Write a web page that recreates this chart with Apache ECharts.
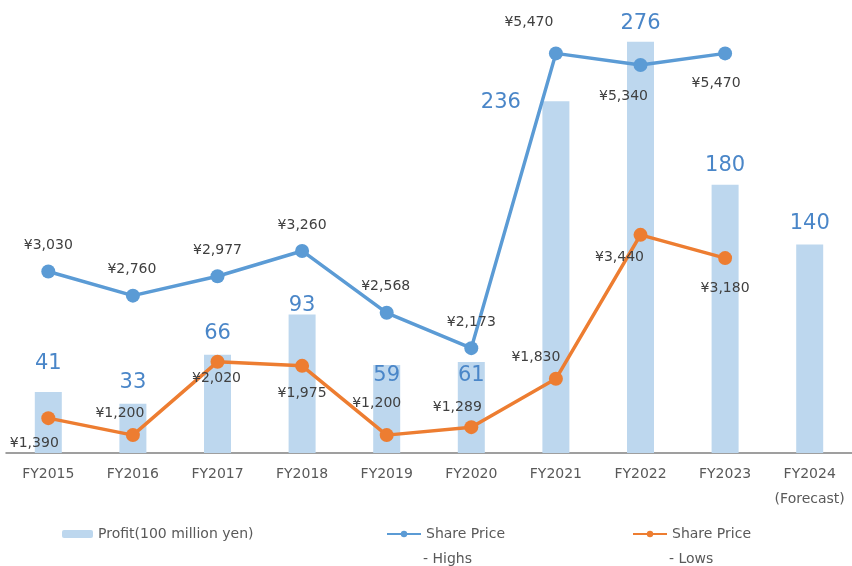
<!DOCTYPE html>
<html>
<head>
<meta charset="utf-8">
<script src="https://cdn.jsdelivr.net/npm/echarts@6/dist/echarts.min.js"></script>
<style>
  html, body { margin: 0; padding: 0; background: #fff; }
  #chart { width: 852px; height: 566px; }
</style>
</head>
<body>
<div id="chart"></div>
<script>
// data
var years = ['FY2015', 'FY2016', 'FY2017', 'FY2018', 'FY2019', 'FY2020', 'FY2021', 'FY2022', 'FY2023', 'FY2024\n(Forecast)']
var profit = [41, 33, 66, 93, 59, 61, 236, 276, 180, 140]
var priceHighs = [3030, 2760, 2977, 3260, 2568, 2173, 5470, 5340, 5470, null]
var priceLows = [1390, 1200, 2020, 1975, 1200, 1289, 1830, 3440, 3180, null]

// label nudges (Excel had them dragged by hand)
var profitLabelOffset = [[0, -28], [0, -21], [0, -21], [0, -9], [0, 10], [0, 13], [-55, 1], [0, -18], [0, -19], [0, -21]]
var highsLabelOffset = [[0, -26], [-1, -26], [0, -26], [0, -26], [-1, -26], [0, -26], [-27, -31], [-17, 31], [-9, 30]]
var lowsLabelOffset = [[-14, 25], [-13, -22], [-1, 17], [0, 28], [-10, -32], [-14, -20], [-20, -21], [-21, 22], [0, 30]]

var FONT = 'DejaVu Sans'

function yen (v) {
  return '¥' + v.toLocaleString('en-US')
}

function withOffsets (values, offsets) {
  return values.map(function (v, i) {
    if (v == null) return v
    return { value: v, label: { offset: offsets[i] } }
  })
}

var priceLabel = {
  show: true,
  position: 'inside',
  color: '#404040',
  fontFamily: FONT,
  fontSize: 14,
  formatter: function (p) { return yen(p.value) }
}

var chart = echarts.init(document.getElementById('chart'))
var option = {
  animation: false,
  grid: {
    left: 6,
    top: 6,
    width: 853,
    height: 447
  },
  xAxis: {
    type: 'category',
    data: years,
    axisTick: { show: false },
    axisLine: {
      lineStyle: { color: '#808080', width: 1.5 }
    },
    axisLabel: {
      color: '#595959',
      fontFamily: FONT,
      fontSize: 14,
      lineHeight: 25,
      margin: 9,
      interval: 0
    }
  },
  yAxis: [
    { type: 'value', min: 0, max: 300, show: false },
    { type: 'value', min: 1000, max: 6000, show: false }
  ],
  legend: [
    {
      left: 62,
      top: 527,
      padding: 0,
      itemWidth: 31,
      itemHeight: 8,
      data: ['Profit(100 million yen)'],
      textStyle: { color: '#595959', fontFamily: FONT, fontSize: 14 }
    },
    {
      left: 386,
      top: 527,
      padding: 0,
      itemWidth: 34,
      itemHeight: 8,
      data: ['Share Price - Highs'],
      formatter: function () { return 'Share Price' },
      textStyle: { color: '#595959', fontFamily: FONT, fontSize: 14 }
    },
    {
      left: 632,
      top: 527,
      padding: 0,
      itemWidth: 34,
      itemHeight: 8,
      data: ['Share Price - Lows'],
      formatter: function () { return 'Share Price' },
      textStyle: { color: '#595959', fontFamily: FONT, fontSize: 14 }
    }
  ],
  graphic: [
    {
      type: 'text',
      x: 423,
      y: 559,
      style: { text: '- Highs', fill: '#595959', fontFamily: FONT, fontSize: 14, verticalAlign: 'middle' }
    },
    {
      type: 'text',
      x: 669,
      y: 559,
      style: { text: '- Lows', fill: '#595959', fontFamily: FONT, fontSize: 14, verticalAlign: 'middle' }
    }
  ],
  series: [
    {
      name: 'Profit(100 million yen)',
      type: 'bar',
      yAxisIndex: 0,
      data: withOffsets(profit, profitLabelOffset),
      barWidth: 27,
      itemStyle: { color: '#bdd7ee' },
      z: 1,
      label: {
        show: true,
        position: 'top',
        distance: 0,
        align: 'center',
        verticalAlign: 'middle',
        color: '#4a86c8',
        fontFamily: FONT,
        fontSize: 21
      }
    },
    {
      name: 'Share Price - Highs',
      type: 'line',
      yAxisIndex: 1,
      data: withOffsets(priceHighs, highsLabelOffset),
      symbol: 'circle',
      symbolSize: 14,
      lineStyle: { color: '#5b9bd5', width: 3.5 },
      itemStyle: { color: '#5b9bd5' },
      z: 3,
      label: priceLabel
    },
    {
      name: 'Share Price - Lows',
      type: 'line',
      yAxisIndex: 1,
      data: withOffsets(priceLows, lowsLabelOffset),
      symbol: 'circle',
      symbolSize: 14,
      lineStyle: { color: '#ed7d31', width: 3.5 },
      itemStyle: { color: '#ed7d31' },
      z: 3,
      label: priceLabel
    }
  ]
}
chart.setOption(option)
</script>
</body>
</html>
